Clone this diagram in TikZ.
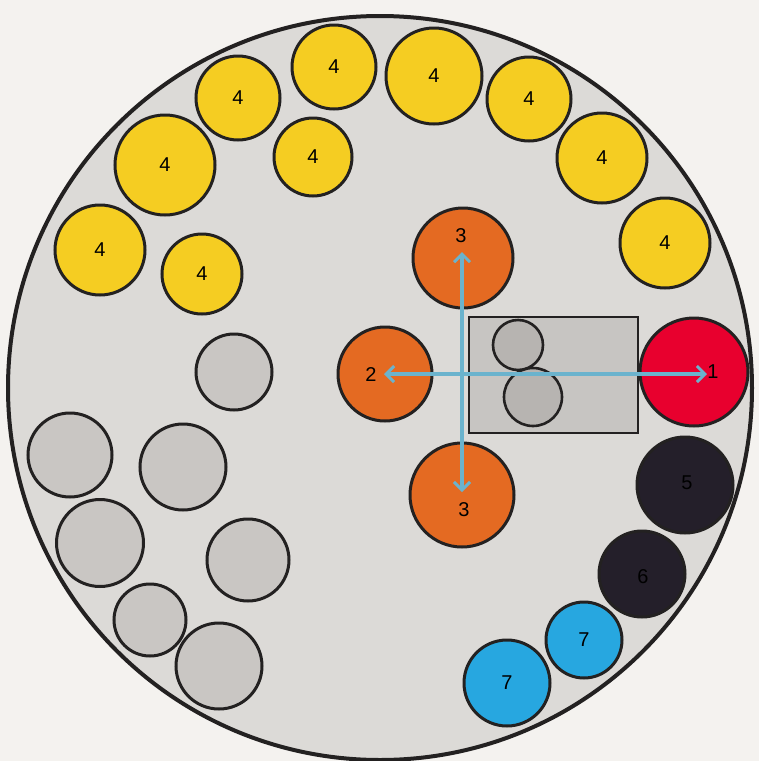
\documentclass[tikz,border=0pt]{standalone}
\usepackage{fontspec}
\setmainfont{Liberation Sans}
\usetikzlibrary{arrows.meta}
\definecolor{bgc}{HTML}{F4F2EF}
\definecolor{plate}{HTML}{DCDAD7}
\definecolor{edgec}{HTML}{232121}
\definecolor{yel}{HTML}{F5CD22}
\definecolor{ora}{HTML}{E46A22}
\definecolor{redc}{HTML}{E8002E}
\definecolor{blk}{HTML}{241F2A}
\definecolor{blu}{HTML}{27A7E0}
\definecolor{gry}{HTML}{C9C6C3}
\definecolor{rectc}{HTML}{C7C5C2}
\definecolor{inner}{HTML}{B7B4B1}
\definecolor{arrc}{HTML}{6BB3CD}
\tikzset{
  circ/.style={circle, draw=edgec, line width=3pt, inner sep=0pt, text=black,
    font=\fontsize{20}{20}\selectfont},
  ycirc/.style={circ, fill=yel},
  ocirc/.style={circ, fill=ora},
  gcirc/.style={circ, fill=gry},
  lab/.style={inner sep=0pt, text=black, font=\fontsize{20}{20}\selectfont},
  arr/.style={draw=arrc, line width=3.4pt, {Straight Barb[length=8pt,width=16pt,line width=3pt]}-{Straight Barb[length=8pt,width=16pt,line width=3pt]}}
}
\begin{document}
\begin{tikzpicture}[x=1pt,y=-1pt]
\fill[bgc] (0,0) rectangle (759,761);
\useasboundingbox (0,0) rectangle (759,761);
% plate
\node[circle, fill=plate, draw=edgec, line width=4pt, minimum size=744pt, inner sep=0pt] (plate) at (380,388) {};
% yellow
\node[ycirc, minimum size=90pt] (y1) at (100,250) {4};
\node[ycirc, minimum size=80pt] (y2) at (202,274) {4};
\node[ycirc, minimum size=100pt] (y3) at (165,165) {4};
\node[ycirc, minimum size=84pt] (y4) at (238,98) {4};
\node[ycirc, minimum size=78pt] (y5) at (313,157) {4};
\node[ycirc, minimum size=84pt] (y6) at (334,67) {4};
\node[ycirc, minimum size=96pt] (y7) at (434,76) {4};
\node[ycirc, minimum size=84pt] (y8) at (529,99) {4};
\node[ycirc, minimum size=90pt] (y9) at (602,158) {4};
\node[ycirc, minimum size=90pt] (y10) at (665,243) {4};
% rectangle with inner circles
\node[draw=edgec, fill=rectc, line width=2.4pt, minimum width=169pt, minimum height=116pt, inner sep=0pt] (box) at (553.5,375) {};
\node[circ, fill=inner, line width=2.6pt, minimum size=50pt] (in1) at (518,345) {};
\node[circ, fill=inner, line width=2.6pt, minimum size=58pt] (in2) at (533,397) {};
% orange / red
\node[ocirc, minimum size=100pt] (o3t) at (463,258) {};
\node[ocirc, minimum size=94pt] (o2) at (385,374) {};
\node[ocirc, minimum size=104pt] (o3b) at (462,495) {};
\node[circ, fill=redc, minimum size=108pt] (r1) at (694,372) {};
\node[lab] (l3t) at (461,236) {3};
\node[lab] (l2) at (371,375) {2};
\node[lab] (l3b) at (464,510) {3};
\node[lab] (l1) at (713,372) {1};
% black / blue
\node[circ, fill=blk, minimum size=96pt] (b5) at (685,485) {};
\node[lab] (l5) at (687,483) {5};
\node[circ, fill=blk, minimum size=86pt] (b6) at (642,574) {};
\node[lab] (l6) at (643,577) {6};
\node[circ, fill=blu, minimum size=76pt] (c7a) at (584,640) {7};
\node[circ, fill=blu, minimum size=86pt] (c7b) at (507,683) {7};
% gray circles
\node[gcirc, minimum size=76pt] (g1) at (234,372) {};
\node[gcirc, minimum size=84pt] (g2) at (70,455) {};
\node[gcirc, minimum size=86pt] (g3) at (183,467) {};
\node[gcirc, minimum size=87pt] (g4) at (100,543) {};
\node[gcirc, minimum size=82pt] (g5) at (248,560) {};
\node[gcirc, minimum size=72pt] (g6) at (150,620) {};
\node[gcirc, minimum size=86pt] (g7) at (219,666) {};
% arrows
\coordinate (hl) at (384,374);
\coordinate (hr) at (707,374);
\coordinate (vt) at (462,252);
\coordinate (vb) at (462,492);
\draw[arr] (hl) -- (hr);
\draw[arr] (vt) -- (vb);
\end{tikzpicture}
\end{document}
